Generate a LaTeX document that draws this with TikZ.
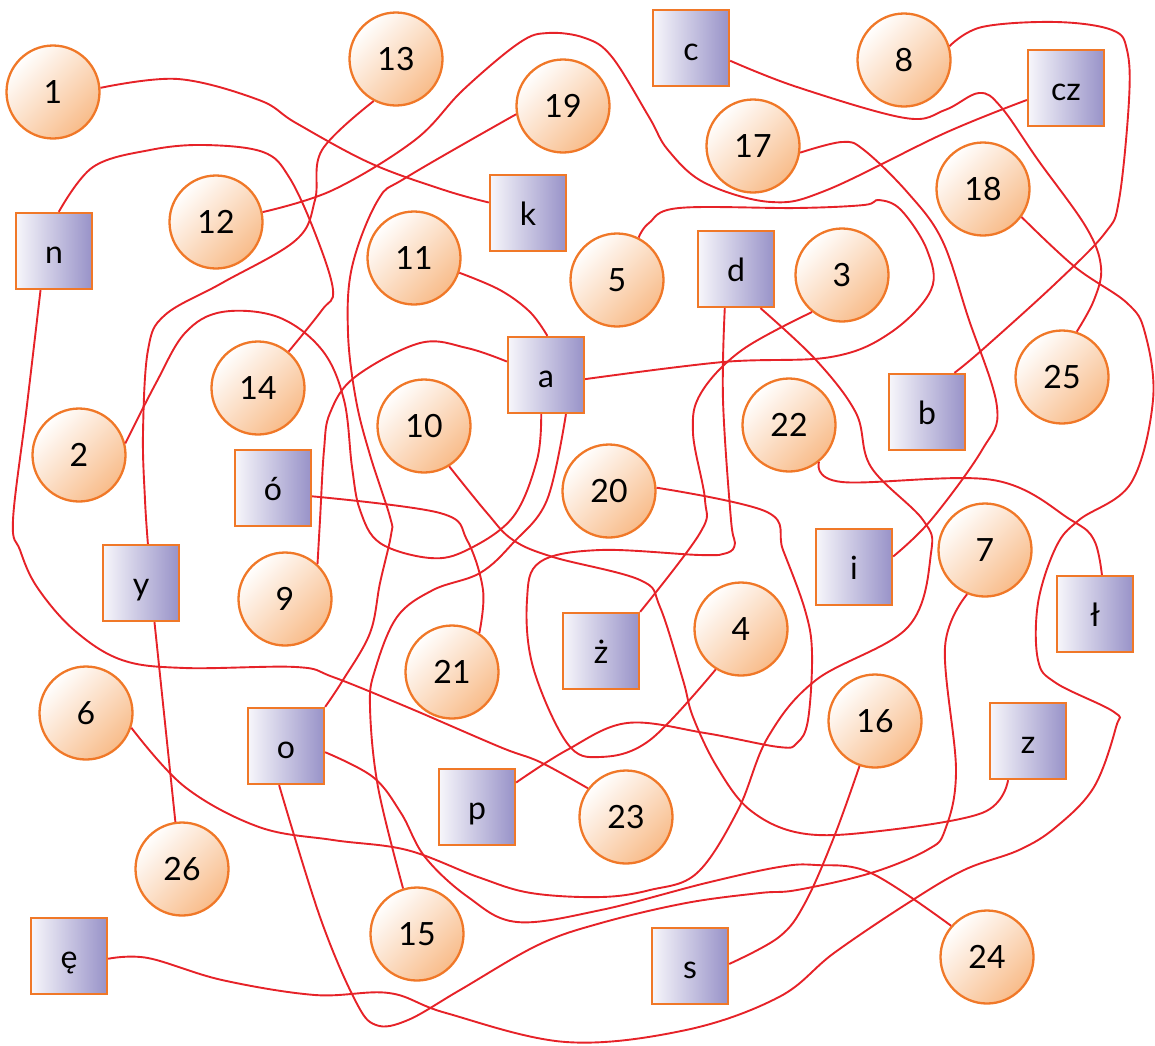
\documentclass[tikz,border=0pt]{standalone}
\usepackage{fontspec}
\setmainfont{Lato}
\usetikzlibrary{math}
\definecolor{wirered}{RGB}{230,34,40}
\definecolor{rimorange}{RGB}{240,120,40}
\definecolor{peach}{RGB}{248,188,138}
\definecolor{lilac}{RGB}{152,146,200}
\begin{document}
\begin{tikzpicture}[x=1pt, y=-1pt]

\tikzmath{
	\D = 93;
	\W = 76;
}

\tikzset{num/.style={circle, draw=rimorange, line width=2.3pt,
    minimum size=\D, inner sep=0pt,
    top color=white, bottom color=peach, shading angle=45,
    font=\fontsize{32}{32}\selectfont, text height=22.5pt, text depth=0pt
  },
  let/.style={rectangle, draw=rimorange, line width=2.3pt,
    minimum size=\W, inner sep=0pt,
    left color=white!92!lilac, right color=lilac,
    font=\fontsize{32}{32}\selectfont, text height=25pt, text depth=0pt
  },
  wire/.style={draw=wirered, line width=1.9pt}
}

\useasboundingbox (0,0) rectangle (1155,1045);

\node[num] (c1) at (53,92) {1};
\node[num] (c2) at (79,455) {2};
\node[num] (c3) at (842,275) {3};
\node[num] (c4) at (741,629) {4};
\node[num] (c5) at (617,280) {5};
\node[num] (c6) at (86,713) {6};
\node[num] (c7) at (985,550) {7};
\node[num] (c8) at (904,60) {8};
\node[num] (c9) at (285,599) {9};
\node[num] (c10) at (424,426) {10};
\node[num] (c11) at (414,258) {11};
\node[num] (c12) at (216,222) {12};
\node[num] (c13) at (396,59) {13};
\node[num] (c14) at (258,388) {14};
\node[num] (c15) at (417,934) {15};
\node[num] (c16) at (875,721) {16};
\node[num] (c17) at (753,146) {17};
\node[num] (c18) at (983,189) {18};
\node[num] (c19) at (563,106) {19};
\node[num] (c20) at (609,491) {20};
\node[num] (c21) at (452,672) {21};
\node[num] (c22) at (789,425) {22};
\node[num] (c23) at (626,817) {23};
\node[num] (c24) at (987,957) {24};
\node[num] (c25) at (1062,377) {25};
\node[num] (c26) at (182,869) {26};

\node[let] (lA) at (546,375) {a};
\node[let] (lB) at (927,412) {b};
\node[let] (lC) at (691,48) {c};
\node[let] (lCZ) at (1066,88) {cz};
\node[let] (lD) at (736,269) {d};
\node[let] (lEo) at (69,956) {ę};
\node[let] (lI) at (854,567) {i};
\node[let] (lK) at (528,213) {k};
\node[let] (lL) at (1095,614) {ł};
\node[let] (lN) at (54,251) {n};
\node[let] (lO) at (286,746) {o};
\node[let] (lOa) at (273,488) {ó};
\node[let] (lP) at (477,807) {p};
\node[let] (lS) at (690,966) {s};
\node[let] (lY) at (141,583) {y};
\node[let] (lZ) at (1028,741) {z};
\node[let] (lZd) at (601,651) {ż};

\draw[wire] plot[smooth, tension=.6] coordinates {(c1.5) (178,79) (259,100) (296,123) (370,163) (444,190) (lK.165)};
\draw[wire] plot[smooth, tension=.6] coordinates {(c13.242) (322,150) (315,200) (296,240) (222,283) (165,315) (148,350) (143,433) (145,500) (lY.80)};
\draw[wire] plot[smooth, tension=.6] coordinates {(c12.12) (333,190) (415,140) (463,90) (519,43) (548,33) (585,38) (612,57) (649,117) (668,150) (705,183) (771,202) (827,190) (945,133) (lCZ.197)};
\draw[wire] plot[smooth, tension=.6] coordinates {(c19.190) (407,177) (378,200) (352,267) (348,333) (356,400) (370,455) (390,517) (391,535) (380,583) (370,633) (343,680) (lO.north east)};
\draw[wire] plot[smooth, tension=.6] coordinates {(c11.342) (500,290) (530,312) (lA.88)};
\draw[wire] plot[smooth, tension=.6] coordinates {(lN.83) (93,167) (150,150) (204,145) (263,152) (289,177) (315,233) (333,290) (322,310) (c14.50)};
\draw[wire] plot[smooth, tension=.6] coordinates {(c2.14) (156,383) (185,333) (222,312) (278,317) (322,350) (344,400) (352,467) (360,510) (380,543) (430,558) (467,550) (513,517) (537,460) (lA.263)};
\draw[wire] plot[smooth, tension=.6] coordinates {(lN.251) (27,405) (13,520) (20,550) (37,587) (74,630) (122,660) (185,668) (296,667) (333,677) (407,707) (500,747) (540,762) (c23.143)};
\draw[wire] plot[smooth, tension=.6] coordinates {(c9.47) (320,520) (324,450) (330,413) (355,377) (420,343) (467,348) (lA.161)};
\draw[wire] plot[smooth, tension=.6] coordinates {(lOa.348) (440,513) (467,540) (483,590) (c21.55)};
\draw[wire] plot[smooth, tension=.6] coordinates {(c10.302) (487,513) (513,540) (553,557) (640,580) (660,607) (683,680) (693,717) (717,767) (750,810) (800,833) (871,832) (982,813) (lZ.243)};
\draw[wire] plot[smooth, tension=.6] coordinates {(lA.354) (723,362) (831,357) (890,333) (931,290) (927,250) (901,210) (879,200) (864,205) (797,208) (679,208) (649,223) (c5.63)};
\draw[wire] plot[smooth, tension=.6] coordinates {(lA.297) (547,500) (513,543) (480,573) (433,590) (397,617) (375,670) (370,707) (378,787) (c15.107)};
\draw[wire] plot[smooth, tension=.6] coordinates {(lC.342) (797,87) (905,118) (945,110) (979,93) (1001,107) (1038,160) (1086,227) (1101,267) (1094,300) (c25.72)};
\draw[wire] plot[smooth, tension=.6] coordinates {(c8.17) (982,27) (1056,22) (1112,30) (1127,50) (1129,100) (1119,200) (1105,233) (1056,283) (982,350) (lB.55)};
\draw[wire] plot[smooth, tension=.6] coordinates {(c17.352) (842,142) (864,150) (908,193) (942,240) (968,317) (997,407) (982,450) (931,520) (lI.15)};
\draw[wire] plot[smooth, tension=.6] coordinates {(c18.324) (1075,267) (1127,303) (1145,333) (1153,400) (1131,483) (1079,520) (1056,547) (1038,603) (1038,660) (1056,683) (1114,712) (1116,727) (1094,787) (1056,827) (1019,850) (964,870) (908,903) (834,953) (779,997) (686,1030) (566,1042) (446,1013) (389,993) (315,995) (222,980) (148,958) (lEo.356)};
\draw[wire] plot[smooth, tension=.6] coordinates {(c3.231) (742,350) (701,393) (693,433) (705,500) (700,533) (lZd.45)};
\draw[wire] plot[smooth, tension=.6] coordinates {(lD.254) (723,400) (731,520) (735,543) (727,553) (700,555) (600,550) (540,562) (527,600) (533,667) (567,743) (600,757) (650,740) (c4.238)};
\draw[wire] plot[smooth, tension=.6] coordinates {(c6.342) (185,787) (259,827) (333,840) (407,850) (478,877) (531,893) (601,897) (650,890) (697,873) (738,810) (768,737) (816,680) (908,627) (931,553) (923,520) (871,467) (856,413) (816,360) (lD.302)};
\draw[wire] (lY.289) -- (c26.98);
\draw[wire] plot[smooth, tension=.6] coordinates {(lO.351) (373,777) (401,813) (425,857) (468,897) (517,922) (601,910) (706,883) (779,867) (816,865) (871,873) (c24.139)};
\draw[wire] plot[smooth, tension=.6] coordinates {(lO.260) (320,917) (355,1000) (376,1025) (408,1020) (460,990) (538,945) (601,923) (686,903) (760,893) (797,890) (871,873) (927,850) (945,830) (956,770) (945,647) (c7.248)};
\draw[wire] plot[smooth, tension=.6] coordinates {(c16.251) (834,837) (805,903) (779,937) (lS.3)};
\draw[wire] plot[smooth, tension=.6] coordinates {(lP.32) (567,750) (627,723) (705,733) (779,747) (797,743) (808,720) (812,653) (805,610) (783,550) (767,512) (c20.4)};
\draw[wire] plot[smooth, tension=.6] coordinates {(c22.309) (842,482) (993,480) (1071,520) (1094,540) (lL.80)};

\end{tikzpicture}
\end{document}
